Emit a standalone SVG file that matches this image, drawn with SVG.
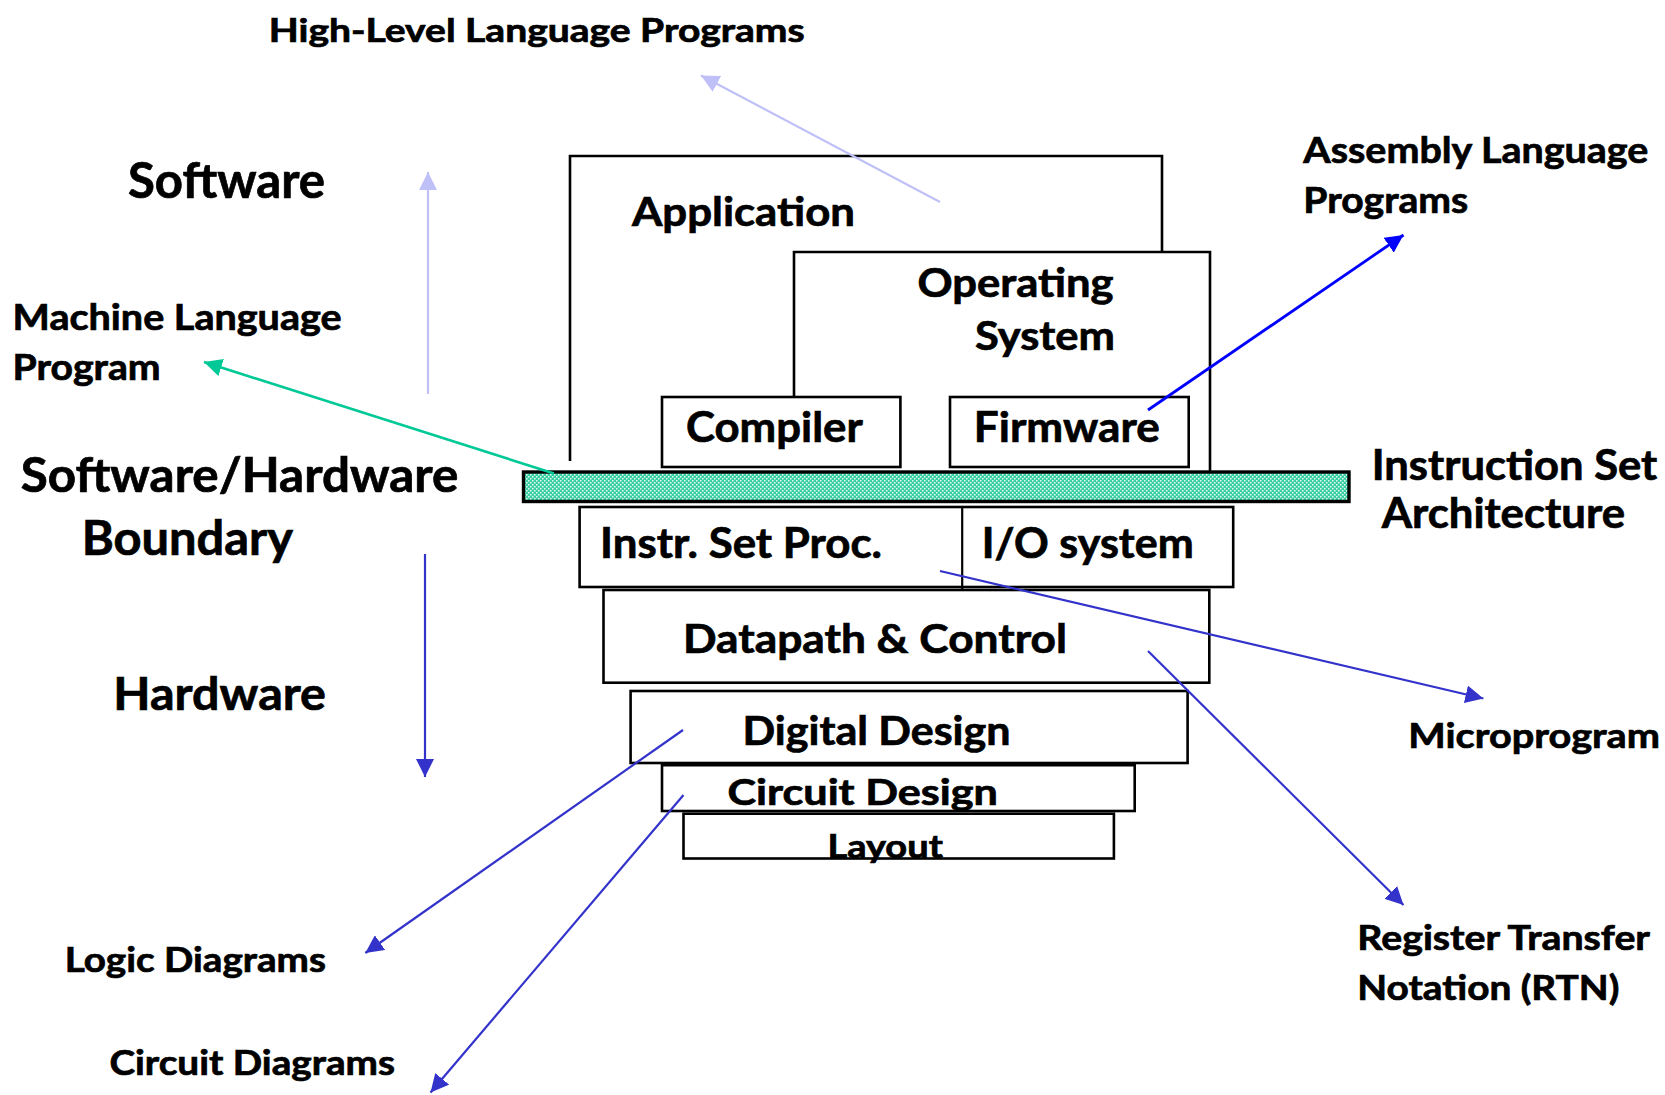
<svg xmlns="http://www.w3.org/2000/svg" width="1665" height="1095" viewBox="0 0 1665 1095">
<style>
text{font-family:Lato,"Open Sans","Liberation Sans",sans-serif;font-weight:bold;fill:#000;stroke:#000;stroke-width:0.7}
.box{fill:#fff;stroke:#000;stroke-width:2.6}
.open{fill:none;stroke:#000;stroke-width:2.6}
.lav{stroke:#c0c0f8;stroke-width:2.2;fill:none}
.grn{stroke:#00c896;stroke-width:2.6;fill:none}
.blu{stroke:#0000ff;stroke-width:2.8;fill:none}
.dblu{stroke:#3333cc;stroke-width:2.2;fill:none}
</style>
<defs>
<pattern id="dots" width="4" height="4" patternUnits="userSpaceOnUse">
<rect width="4" height="4" fill="#38cfa0"/>
<rect x="0" y="0" width="1.5" height="1.5" fill="#ffffff" opacity="0.9"/>
<rect x="2" y="2" width="1.5" height="1.5" fill="#ffffff" opacity="0.9"/>
</pattern>
<marker id="aLav" markerUnits="userSpaceOnUse" markerWidth="18" markerHeight="18" viewBox="0 0 16 16" refX="16" refY="8" orient="auto"><path d="M0,0 L16,8 L0,16 z" fill="#c0c0f8"/></marker>
<marker id="aGrn" markerUnits="userSpaceOnUse" markerWidth="18" markerHeight="18" viewBox="0 0 16 16" refX="16" refY="8" orient="auto"><path d="M0,0 L16,8 L0,16 z" fill="#00c896"/></marker>
<marker id="aBlu" markerUnits="userSpaceOnUse" markerWidth="18" markerHeight="18" viewBox="0 0 16 16" refX="16" refY="8" orient="auto"><path d="M0,0 L16,8 L0,16 z" fill="#0000ff"/></marker>
<marker id="aDblu" markerUnits="userSpaceOnUse" markerWidth="18" markerHeight="18" viewBox="0 0 16 16" refX="16" refY="8" orient="auto"><path d="M0,0 L16,8 L0,16 z" fill="#3333cc"/></marker>
</defs>
<rect width="1665" height="1095" fill="#fff"/>

<g id="labels">
<text x="268.7" y="41.5" font-size="32.5" textLength="536" lengthAdjust="spacingAndGlyphs">High-Level Language Programs</text>
<text x="128" y="198" font-size="49" textLength="197" lengthAdjust="spacingAndGlyphs">Software</text>
<text x="12.6" y="330" font-size="36" textLength="329" lengthAdjust="spacingAndGlyphs">Machine Language</text>
<text x="12.6" y="380" font-size="36" textLength="148" lengthAdjust="spacingAndGlyphs">Program</text>
<text x="20.7" y="491.7" font-size="47" textLength="437.6" lengthAdjust="spacingAndGlyphs">Software/Hardware</text>
<text x="81.7" y="555" font-size="47" textLength="211.3" lengthAdjust="spacingAndGlyphs">Boundary</text>
<text x="113.3" y="710" font-size="46.5" textLength="212.7" lengthAdjust="spacingAndGlyphs">Hardware</text>
<text x="1303.3" y="163.3" font-size="37" textLength="345" lengthAdjust="spacingAndGlyphs">Assembly Language</text>
<text x="1303.3" y="213.3" font-size="37" textLength="165" lengthAdjust="spacingAndGlyphs">Programs</text>
<text x="1371.7" y="480" font-size="42" textLength="285.6" lengthAdjust="spacingAndGlyphs">Instruction Set</text>
<text x="1381.7" y="528.3" font-size="42" textLength="243.3" lengthAdjust="spacingAndGlyphs">Architecture</text>
<text x="1408.3" y="748.3" font-size="35" textLength="251.7" lengthAdjust="spacingAndGlyphs">Microprogram</text>
<text x="1357.3" y="950" font-size="33.5" textLength="292.7" lengthAdjust="spacingAndGlyphs">Register Transfer</text>
<text x="1357.3" y="1000" font-size="33.5" textLength="262" lengthAdjust="spacingAndGlyphs">Notation (RTN)</text>
<text x="64.7" y="971.7" font-size="35" textLength="261.2" lengthAdjust="spacingAndGlyphs">Logic Diagrams</text>
<text x="109.4" y="1075" font-size="34" textLength="285.6" lengthAdjust="spacingAndGlyphs">Circuit Diagrams</text>
</g>

<g id="application">
<path class="open" d="M570,461 V156 H1162 V252"/>
<text x="632" y="226" font-size="41" textLength="223" lengthAdjust="spacingAndGlyphs">Application</text>
</g>
<g id="operating-system">
<path class="open" d="M794,397 V252 H1210 V472"/>
<text x="917.5" y="297" font-size="39.6" textLength="196" lengthAdjust="spacingAndGlyphs">Operating</text>
<text x="975" y="350" font-size="39.6" textLength="140" lengthAdjust="spacingAndGlyphs">System</text>
</g>
<g id="compiler">
<rect class="box" x="662" y="397" width="238.4" height="70"/>
<text x="686" y="441.7" font-size="42" textLength="176.7" lengthAdjust="spacingAndGlyphs">Compiler</text>
</g>
<g id="firmware">
<rect class="box" x="950" y="397" width="238.7" height="70"/>
<text x="973.8" y="441.7" font-size="42" textLength="186" lengthAdjust="spacingAndGlyphs">Firmware</text>
</g>
<g id="isa">
<rect x="523.5" y="472" width="825.5" height="29.5" fill="url(#dots)" stroke="#000" stroke-width="3.4"/>
</g>
<g id="isp-io">
<rect class="box" x="579.6" y="507" width="653.6" height="80"/>
<line x1="962.2" y1="507" x2="962.2" y2="591" stroke="#000" stroke-width="2.2"/>
<text x="600" y="558.3" font-size="42" textLength="282" lengthAdjust="spacingAndGlyphs">Instr. Set Proc.</text>
<text x="981.7" y="558.3" font-size="42" textLength="212" lengthAdjust="spacingAndGlyphs">I/O system</text>
</g>
<g id="datapath">
<rect class="box" x="603.5" y="590" width="605.8" height="92.7"/>
<text x="683" y="652.7" font-size="41" textLength="384" lengthAdjust="spacingAndGlyphs">Datapath &amp; Control</text>
</g>
<g id="digital-design">
<rect class="box" x="630.6" y="691" width="557" height="72"/>
<text x="742.5" y="745" font-size="39.5" textLength="268" lengthAdjust="spacingAndGlyphs">Digital Design</text>
</g>
<g id="circuit-design">
<rect class="box" x="662" y="765.2" width="472.7" height="45.8"/>
<g id="layout">
<rect class="box" x="683.5" y="813.7" width="430.4" height="44.8"/>
<text x="827.4" y="858.3" font-size="32.5" textLength="115.4" lengthAdjust="spacingAndGlyphs">Layout</text>
</g>
<text x="727.5" y="805" font-size="37" textLength="270.3" lengthAdjust="spacingAndGlyphs">Circuit Design</text>
</g>

<g id="connectors">
<line class="lav" x1="428" y1="394" x2="428" y2="172" marker-end="url(#aLav)"/>
<line class="lav" x1="940" y1="202" x2="701" y2="75.5" marker-end="url(#aLav)"/>
<line class="grn" x1="554" y1="473.5" x2="204" y2="362" marker-end="url(#aGrn)"/>
<line class="blu" x1="1148" y1="410" x2="1403.5" y2="235" marker-end="url(#aBlu)"/>
<line class="dblu" x1="425" y1="554" x2="425" y2="777" marker-end="url(#aDblu)"/>
<line class="dblu" x1="940" y1="571" x2="1483.4" y2="698.5" marker-end="url(#aDblu)"/>
<line class="dblu" x1="1148" y1="651" x2="1403.5" y2="905" marker-end="url(#aDblu)"/>
<line class="dblu" x1="683" y1="730" x2="365.3" y2="953" marker-end="url(#aDblu)"/>
<line class="dblu" x1="683.5" y1="795" x2="430.5" y2="1092.5" marker-end="url(#aDblu)"/>
</g>
</svg>
